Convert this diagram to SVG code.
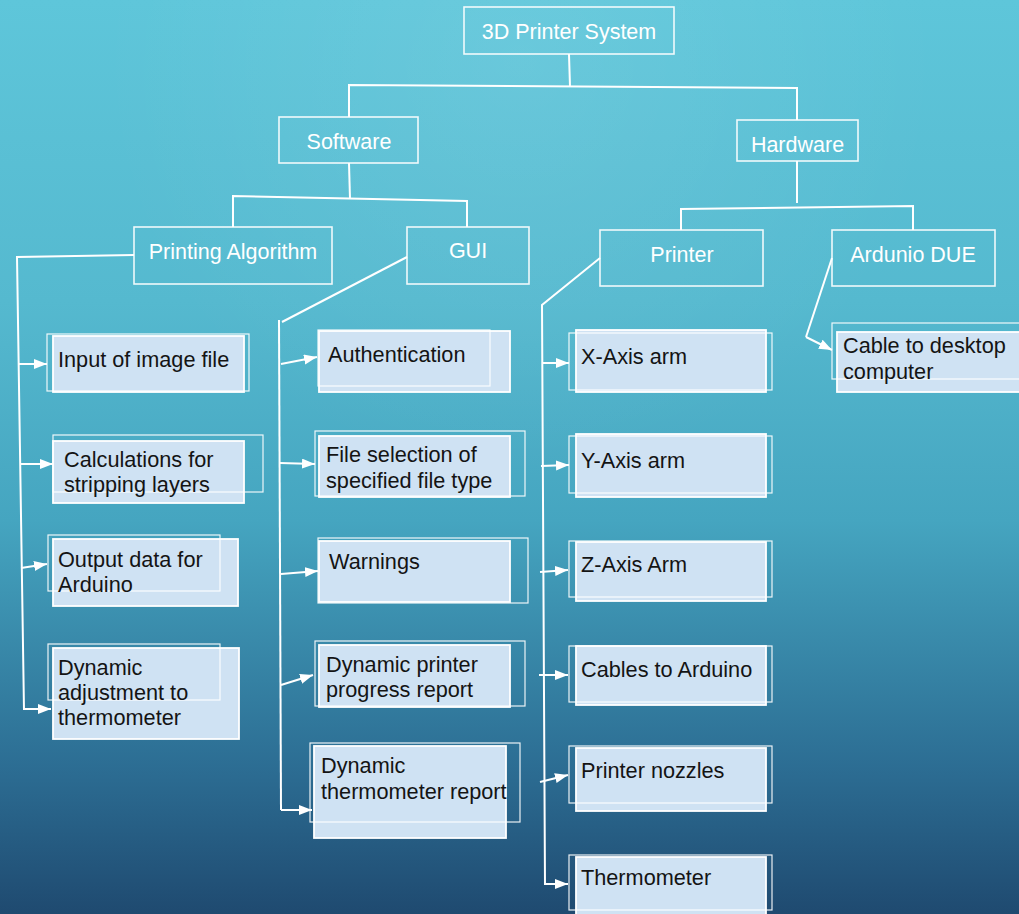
<svg xmlns="http://www.w3.org/2000/svg" width="1019" height="914" viewBox="0 0 1019 914">
<defs>
<linearGradient id="bg" x1="0" y1="0" x2="0" y2="1">
<stop offset="0" stop-color="#5ec6da"/>
<stop offset="0.33" stop-color="#55b9cf"/>
<stop offset="0.57" stop-color="#45a5c0"/>
<stop offset="0.84" stop-color="#2c6d93"/>
<stop offset="1" stop-color="#1f4a70"/>
</linearGradient>
<radialGradient id="glow" cx="520" cy="60" r="420" gradientUnits="userSpaceOnUse">
<stop offset="0" stop-color="#ffffff" stop-opacity="0.08"/>
<stop offset="1" stop-color="#ffffff" stop-opacity="0"/>
</radialGradient>
<marker id="ah" markerUnits="userSpaceOnUse" markerWidth="15" markerHeight="12" refX="13" refY="5" orient="auto">
<path d="M0,0 L13,5 L0,10 z" fill="#ffffff"/>
</marker>
<style>
.hd rect{fill:none;stroke:#ffffff;stroke-width:1.6;opacity:0.9}
.hd text{font-family:"Liberation Sans",Arial,sans-serif;font-size:21.5px;fill:#ffffff;text-anchor:middle}
.bx .f{fill:#cfe2f3;stroke:#ffffff;stroke-width:1.8}
.bx .o{fill:none;stroke:#ffffff;stroke-width:1.2;opacity:0.9}
.bx text{font-family:"Liberation Sans",Arial,sans-serif;font-size:21.7px;fill:#141414}
.c path{fill:none;stroke:#ffffff;stroke-width:2;stroke-linejoin:miter}
.c .a{marker-end:url(#ah)}
</style>
</defs>
<rect x="0" y="0" width="1019" height="914" fill="url(#bg)"/>
<rect x="0" y="0" width="1019" height="914" fill="url(#glow)"/>

<g id="connectors" class="c">
<path d="M569,54 L570,87"/>
<path d="M349,117 L349,85 L797,88 L797,120"/>
<path d="M349,163 L350,199"/>
<path d="M233,227 L233,196 L467,201 L467,227"/>
<path d="M797,161 L797,203"/>
<path d="M681,230 L681,209 L913,206 L913,230"/>
<path d="M134,255 L17,257 L24,710"/>
<path class="a" d="M18,364 L47,364"/>
<path class="a" d="M20,464 L53,464"/>
<path class="a" d="M21,568 L47,564"/>
<path class="a" d="M24,709 L51,709"/>
<path d="M407,257 L282,322"/>
<path d="M279,320 L281,810"/>
<path class="a" d="M281,364 L317,357"/>
<path class="a" d="M280,463 L315,464"/>
<path class="a" d="M281,574 L318,571"/>
<path class="a" d="M281,685 L313,675"/>
<path class="a" d="M281,810 L312,810"/>
<path d="M600,258 L542,305 L545,885"/>
<path class="a" d="M542,363 L569,363"/>
<path class="a" d="M541,466 L569,465"/>
<path class="a" d="M540,572 L568,570"/>
<path class="a" d="M539,675 L568,675"/>
<path class="a" d="M540,782 L568,775"/>
<path class="a" d="M545,884 L568,884"/>
<path d="M832,258 L806,337"/>
<path class="a" d="M806,337 L832,350"/>
</g>

<g id="n-root" class="hd"><rect x="464" y="7" width="210" height="47"/><text x="569" y="39">3D Printer System</text></g>
<g id="n-software" class="hd"><rect x="279" y="117" width="139" height="46"/><text x="349" y="149">Software</text></g>
<g id="n-hardware" class="hd"><rect x="737" y="120" width="121" height="41"/><text x="797.5" y="152">Hardware</text></g>
<g id="n-printalg" class="hd"><rect x="134" y="227" width="198" height="57"/><text x="233" y="259">Printing Algorithm</text></g>
<g id="n-gui" class="hd"><rect x="407" y="227" width="122" height="57"/><text x="468" y="258">GUI</text></g>
<g id="n-printer" class="hd"><rect x="600" y="230" width="163" height="56"/><text x="682" y="262">Printer</text></g>
<g id="n-arduino" class="hd"><rect x="832" y="230" width="163" height="56"/><text x="913" y="262">Ardunio DUE</text></g>

<g id="n-input" class="bx"><rect class="f" x="53" y="336" width="191" height="56"/><rect class="o" x="47" y="334" width="202" height="57"/><text x="58" y="367">Input of image file</text></g>
<g id="n-calc" class="bx"><rect class="f" x="53" y="441" width="191" height="62"/><rect class="o" x="53" y="435" width="210" height="57"/><text x="64" y="467">Calculations for</text><text x="64" y="492">stripping layers</text></g>
<g id="n-output" class="bx"><rect class="f" x="53" y="539" width="185" height="67"/><rect class="o" x="48" y="535" width="172" height="56"/><text x="58" y="567">Output data for</text><text x="58" y="592">Arduino</text></g>
<g id="n-dynadj" class="bx"><rect class="f" x="53" y="648" width="186" height="91"/><rect class="o" x="48" y="644" width="172" height="56"/><text x="58" y="675">Dynamic</text><text x="58" y="700">adjustment to</text><text x="58" y="725">thermometer</text></g>

<g id="n-auth" class="bx"><rect class="f" x="319" y="331" width="191" height="61"/><rect class="o" x="318" y="330" width="172" height="56"/><text x="328" y="362">Authentication</text></g>
<g id="n-file" class="bx"><rect class="f" x="319" y="436" width="191" height="61"/><rect class="o" x="315" y="431" width="210" height="65"/><text x="326" y="462">File selection of</text><text x="326" y="488">specified file type</text></g>
<g id="n-warn" class="bx"><rect class="f" x="319" y="541" width="191" height="61"/><rect class="o" x="318" y="538" width="210" height="65"/><text x="329" y="569">Warnings</text></g>
<g id="n-dynprint" class="bx"><rect class="f" x="319" y="645" width="191" height="62"/><rect class="o" x="315" y="641" width="210" height="65"/><text x="326" y="672">Dynamic printer</text><text x="326" y="697">progress report</text></g>
<g id="n-dyntherm" class="bx"><rect class="f" x="314" y="746" width="192" height="92"/><rect class="o" x="310" y="743" width="210" height="79"/><text x="321" y="773">Dynamic</text><text x="321" y="799">thermometer report</text></g>

<g id="n-xaxis" class="bx"><rect class="f" x="576" y="330" width="190" height="62"/><rect class="o" x="569" y="333" width="203" height="57"/><text x="581" y="364">X-Axis arm</text></g>
<g id="n-yaxis" class="bx"><rect class="f" x="576" y="434" width="190" height="63"/><rect class="o" x="569" y="436" width="203" height="57"/><text x="581" y="468">Y-Axis arm</text></g>
<g id="n-zaxis" class="bx"><rect class="f" x="576" y="542" width="190" height="59"/><rect class="o" x="569" y="541" width="203" height="56"/><text x="581" y="572">Z-Axis Arm</text></g>
<g id="n-cables" class="bx"><rect class="f" x="576" y="646" width="190" height="59"/><rect class="o" x="569" y="646" width="203" height="56"/><text x="581" y="677">Cables to Arduino</text></g>
<g id="n-nozzles" class="bx"><rect class="f" x="576" y="748" width="190" height="63"/><rect class="o" x="569" y="746" width="203" height="57"/><text x="581" y="778">Printer nozzles</text></g>
<g id="n-thermo" class="bx"><rect class="f" x="576" y="857" width="190" height="60"/><rect class="o" x="569" y="855" width="203" height="55"/><text x="581" y="885">Thermometer</text></g>

<g id="n-cable" class="bx"><rect class="f" x="837" y="332" width="190" height="60"/><rect class="o" x="832" y="323" width="200" height="56"/><text x="843" y="353">Cable to desktop</text><text x="843" y="379">computer</text></g>
</svg>
